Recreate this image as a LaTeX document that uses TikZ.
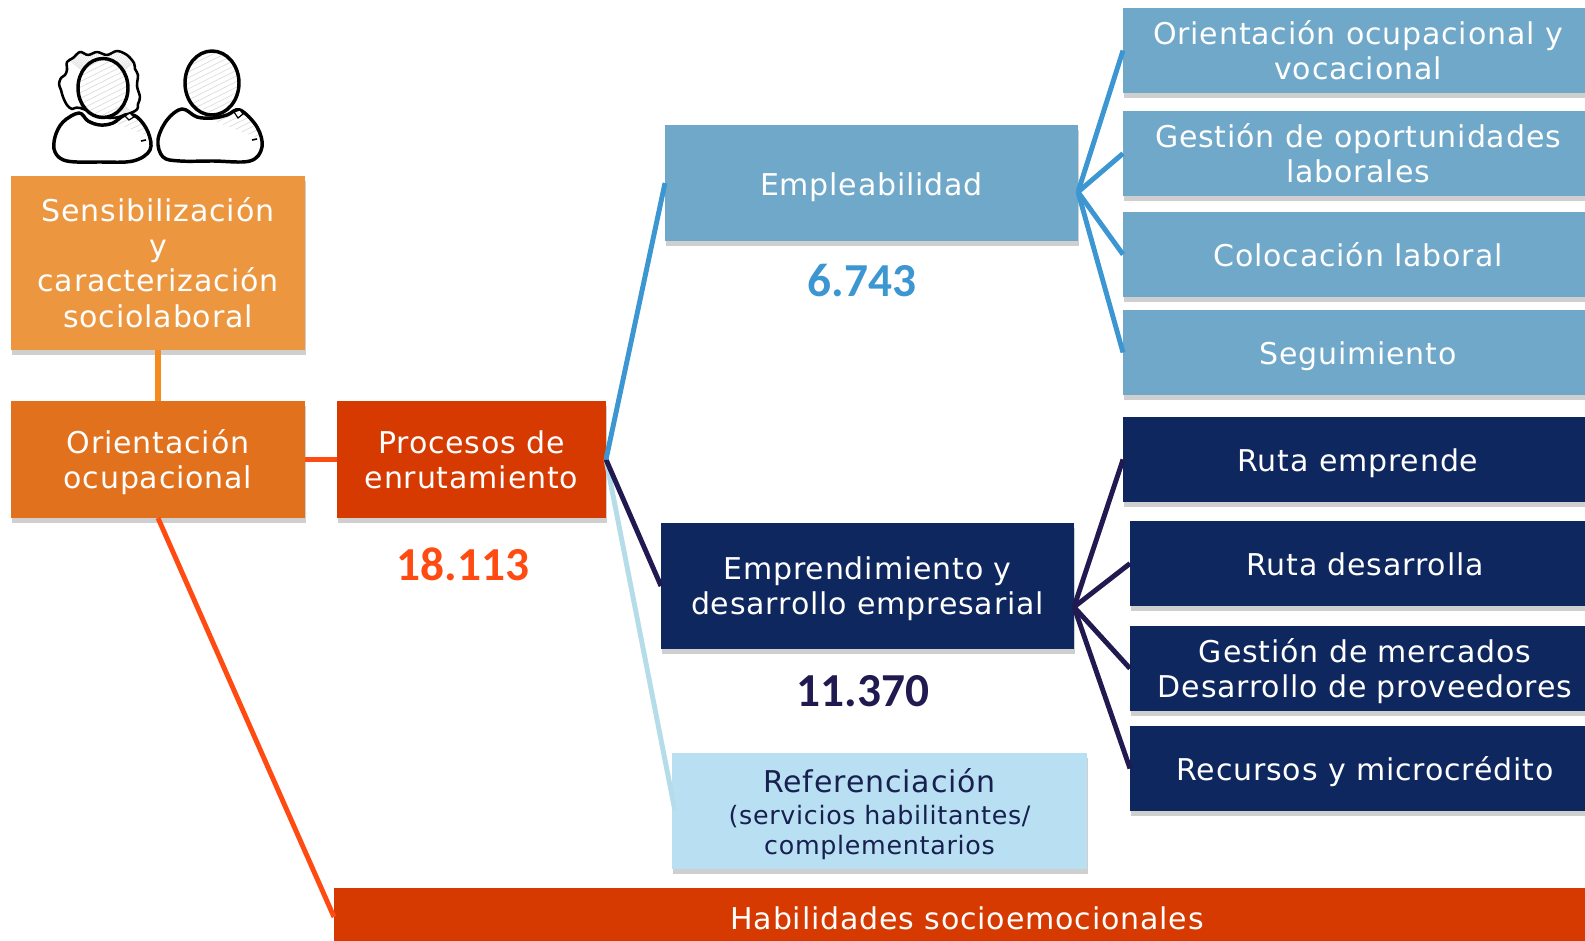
\documentclass[tikz,border=0pt]{standalone}
\usepackage{fontspec}
\setmainfont[LetterSpace=2.8]{DejaVu Sans}
\newfontfamily\numfont{Carlito}
\usetikzlibrary{shadows}
\definecolor{csens}{HTML}{EC9640}
\definecolor{corient}{HTML}{E2711D}
\definecolor{cproc}{HTML}{D63A00}
\definecolor{cempl}{HTML}{6FA8C9}
\definecolor{cnavy}{HTML}{0F275F}
\definecolor{cref}{HTML}{B9DFF3}
\definecolor{ctext}{HTML}{17204F}
\definecolor{lblue}{HTML}{3C96D2}
\definecolor{lnavy}{HTML}{211A50}
\definecolor{llight}{HTML}{B5DDE9}
\definecolor{lorange}{HTML}{F58A20}
\definecolor{lred}{HTML}{FF4A12}
\definecolor{cshadow}{HTML}{CFCFCF}
\def\px{0.75pt}
\tikzset{
  x=0.75pt,y=-0.75pt,
  box/.style={rectangle,inner sep=0pt,outer sep=0pt,text=white,align=center,
    font=\fontsize{22.5}{26.5}\selectfont,
    execute at begin node={\rule{0pt}{26.35pt}},execute at end node={\strut},
    drop shadow={shadow xshift=0.8*\px,shadow yshift=-5*\px,fill=cshadow,opacity=1}},
  tall/.style={execute at begin node={\rule{0pt}{#1}}},
  sz/.style n args={2}{minimum width=#1*\px,minimum height=#2*\px},
  link/.style={line width=3.7pt},
  num/.style={font=\numfont\bfseries\fontsize{35.5}{40}\selectfont,inner sep=0pt},
  ink/.style={line width=2.6pt,black,line join=round},
  hatch/.style={line width=0.5pt,black!14},
}
\newcommand{\hatchlines}{%
  \foreach \k in {0,7,...,190}{\draw[hatch] (30+\k*0.9,90+\k*0.35) -- (130+\k*0.9,40+\k*0.35);}%
}
\begin{document}
\begin{tikzpicture}
\useasboundingbox (0,0) rectangle (1585,941);
% people
\def\hairpath{plot[smooth cycle,tension=0.55] coordinates {(67,62)(73,58)(80,52)(88,55)(97,52)(107,55)(117,51)(127,55)(134,63)(135,69)(138,75)(137,86)(140,97)(138,104)(135,111)(110,118)(80,108)(72,109)(67,105)(63,97)(61,90)(59,84)(61,78)(65,75)(67,70)}}
\def\bodyA{plot[smooth cycle,tension=0.6] coordinates {(79,113)(63,122)(55,137)(55,152)(67,161)(100,162)(133,161)(150,150)(148,132)(137,117)(125,115)(113,123)(100,125)(88,121)}}
\def\bodyB{plot[smooth cycle,tension=0.6] coordinates {(182,109)(167,120)(158,140)(163,157)(180,161)(213,161)(250,161)(262,147)(257,127)(240,110)(227,115)(213,118)(197,117)}}
\begin{scope}\clip \hairpath; \foreach \k in {0,5,...,90}{\draw[black!12,line width=0.4pt] (103,88) -- ++(\k*4,300) ; \draw[black!12,line width=0.4pt] (103,88) -- ++(\k*4,-300); \draw[black!12,line width=0.4pt] (103,88) -- ++(-\k*4,-300); \draw[black!12,line width=0.4pt] (103,88) -- ++(-\k*4,300);}\end{scope}
\draw[line width=1.9pt,black,line join=round] \hairpath;
\fill[white] \bodyA; \fill[white] \bodyB;
\begin{scope}\clip \bodyA; \hatchlines\end{scope}
\draw[ink] \bodyA;
\fill[white] (103,88) ellipse [x radius=25,y radius=29.5];
\begin{scope}\clip (103,88) ellipse [x radius=25,y radius=29.5]; \hatchlines\end{scope}
\draw[ink] (103,88) ellipse [x radius=25,y radius=29.5];
\begin{scope}\clip \bodyB; \begin{scope}[shift={(130,10)}]\hatchlines\end{scope}\end{scope}
\draw[ink] \bodyB;
\fill[white] (212,83) ellipse [x radius=27,y radius=32];
\begin{scope}\clip (212,83) ellipse [x radius=27,y radius=32]; \begin{scope}[shift={(110,-5)}]\hatchlines\end{scope}\end{scope}
\draw[ink] (212,83) ellipse [x radius=27,y radius=32];
\draw[line width=0.9pt,black,fill=white] (125,116) -- (130,113) -- (134,117) -- (129,120) -- cycle;
\draw[line width=0.9pt,black,fill=white] (234,112) -- (240,110) -- (243,114) -- (238,118) -- cycle;
\draw[line width=1.2pt,black] (141,141) -- (146,140) (252,140) -- (257,139);
% boxes
\node[box,tall=104.3pt,fill=csens,sz={294}{174}] (sens) at (158,263) {Sensibilización\\y\\caracterización\\sociolaboral};
\node[box,tall=51.3pt,fill=corient,sz={294}{117}] (orient) at (158,459.5) {Orientación\\ocupacional};
\node[box,tall=51.3pt,fill=cproc,sz={269}{117}] (proc) at (471.5,459.5) {Procesos de\\enrutamiento};
\node[box,fill=cempl,sz={413}{116}] (empl) at (871.5,183) {Empleabilidad};
\node[box,tall=51.3pt,fill=cnavy,sz={413}{126}] (empr) at (867.5,586) {Emprendimiento y\\desarrollo empresarial};
\node[box,tall=72.5pt,fill=cref,sz={415}{116},text=ctext] (ref) at (879.5,811) {Referenciación\\[-2pt]{\fontsize{19}{22}\selectfont (servicios habilitantes/}\\[-4.5pt]{\fontsize{19}{22}\selectfont complementarios}};
\node[box,tall=51.3pt,fill=cempl,sz={470}{85}] (r1) at (1358,50.5) {Orientación ocupacional y\\vocacional};
\node[box,tall=51.3pt,fill=cempl,sz={470}{85}] (r2) at (1358,153.5) {Gestión de oportunidades\\laborales};
\node[box,fill=cempl,sz={470}{85}] (r3) at (1358,254.5) {Colocación laboral};
\node[box,fill=cempl,sz={470}{85}] (r4) at (1358,352.5) {Seguimiento};
\node[box,fill=cnavy,sz={470}{85}] (r5) at (1358,459.5) {Ruta emprende};
\node[box,fill=cnavy,sz={470}{85}] (r6) at (1365,563.5) {Ruta desarrolla};
\node[box,tall=51.3pt,fill=cnavy,sz={470}{85}] (r7) at (1365,668.5) {Gestión de mercados\\Desarrollo de proveedores};
\node[box,fill=cnavy,sz={470}{85}] (r8) at (1365,768.5) {Recursos y microcrédito};
\node[box,fill=cproc,sz={1266}{58}] (hab) at (967,917) {Habilidades socioemocionales};
% numbers
\node[num,text=lred] (n1) at (463,564) {18.113};
\node[num,text=lblue] (n2) at (862,281) {6.743};
\node[num,text=lnavy] (n3) at (863,691) {11.370};
% connector junctions
\coordinate (jempl) at (1078,192);
\coordinate (jempr) at (1074,607);
\coordinate (jref) at (675,811);
% connectors
\draw[lorange,line width=4.5pt] (sens.south) -- (orient.north);
\draw[link,lred] (orient.east) -- (proc.west);
\draw[link,lred] (orient.south) -- (hab.west);
\draw[link,llight] (proc.east) -- (jref);
\draw[link,lnavy] (proc.east) -- (empr.west);
\draw[link,lblue] (proc.east) -- (empl.west);
\foreach \t in {r1,r2,r3,r4}{\draw[link,lblue] (jempl) -- (\t.west);}
\foreach \t in {r5,r6,r7,r8}{\draw[link,lnavy] (jempr) -- (\t.west);}
\end{tikzpicture}
\end{document}
